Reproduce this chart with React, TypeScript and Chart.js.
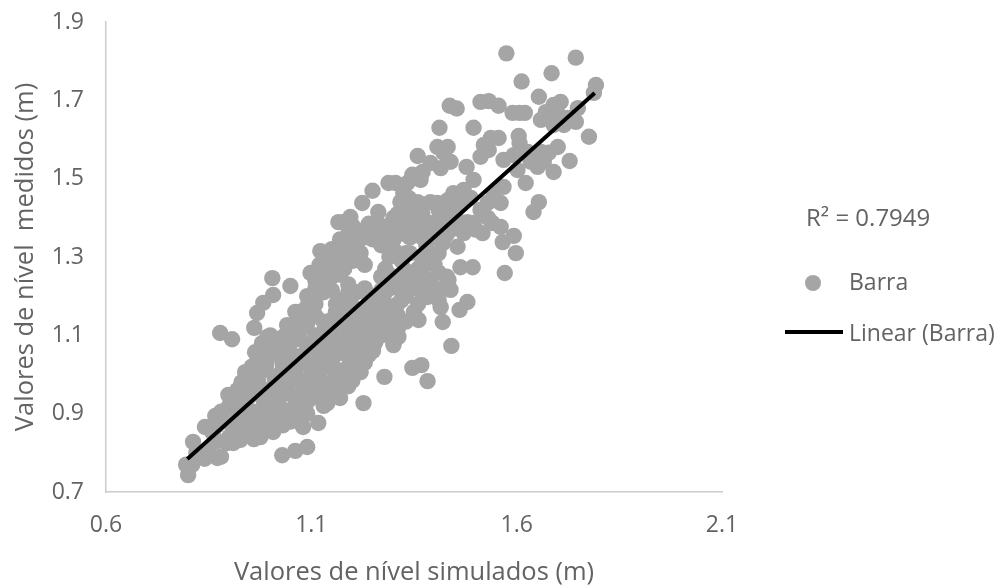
import { useEffect, useRef } from "react";
import { Chart, registerables } from "chart.js";

Chart.register(...registerables);

const seriesName = "Barra";
const trendName = "Linear (Barra)";
const r2Label = "R² = 0.7949";
const xTitle = "Valores de nível simulados (m)";
const yTitle = "Valores de nível  medidos (m)";

const upperCloud = [
  [1.575,1.82],[1.744,1.809],[1.685,1.769],[1.612,1.748],[1.793,1.739],[1.788,1.719],[1.654,1.709],
  [1.437,1.686],[1.454,1.679],[1.512,1.696],[1.532,1.698],[1.556,1.686],[1.59,1.668],[1.607,1.668],[1.62,1.668],
  [1.707,1.696],[1.69,1.688],[1.749,1.68],[1.671,1.67],[1.659,1.65],[1.683,1.655],[1.702,1.663],[1.724,1.655],
  [1.744,1.645],[1.715,1.637],[1.69,1.637],[1.776,1.607],[1.729,1.545],[1.412,1.63],[1.495,1.63],
  [1.605,1.609],[1.607,1.591],[1.556,1.604],[1.537,1.604],[1.52,1.586],[1.512,1.556],[1.532,1.573],
  [1.407,1.581],[1.432,1.581],[1.359,1.558],[1.422,1.566],[1.439,1.543],[1.39,1.54],[1.415,1.527],[1.478,1.53],[1.495,1.497],
  [1.568,1.548],[1.593,1.56],[1.627,1.568],[1.659,1.568],[1.7,1.581],[1.678,1.566],[1.651,1.53],[1.69,1.517],
  [1.666,1.543],[1.634,1.543],[1.602,1.522],[1.622,1.489],[1.568,1.479],[1.544,1.463],[1.561,1.438],[1.529,1.438],
  [1.654,1.44],[1.641,1.415],[1.288,1.489],[1.305,1.489],[1.249,1.469],[1.224,1.438],[1.346,1.51],[1.371,1.517],
  [1.334,1.489],[1.366,1.497],[1.324,1.463],[1.317,1.44],[1.349,1.415],[1.359,1.44],[1.338,1.45],
  [1.407,1.438],[1.446,1.463],[1.471,1.471],[1.432,1.445],[1.463,1.438],[1.488,1.451],[1.395,1.387],[1.422,1.402],[1.446,1.42],
  [1.541,1.387],[1.561,1.377],[1.593,1.354],[1.566,1.338],[1.598,1.31],[1.571,1.259],
  [1.48,1.389],[1.495,1.387],[1.517,1.361],[1.471,1.361],[1.429,1.356],[1.456,1.326],[1.493,1.274],[1.463,1.274],
  [1.178,1.389],[1.166,1.389],[1.195,1.402],[1.263,1.415],[1.3,1.4],[1.324,1.361],[1.371,1.349],
  [1.122,1.315],[1.098,1.259],[1.171,1.336],[1.212,1.336],[1.512,1.42],[1.53,1.4],[1.5,1.37],
];

const lowerCloud = [
  [1.005,1.246],[1.049,1.226],[1.007,1.203],[0.983,1.183],[0.968,1.157],[0.961,1.119],[0.993,1.096],[0.878,1.106],[0.907,1.09],
  [0.963,1.057],[0.939,1.006],[0.898,0.948],[0.866,0.894],[0.841,0.866],[0.812,0.828],[0.8,0.764],[0.8,0.743],[0.81,0.77],
  [0.795,0.77],[1.029,0.794],[1.061,0.805],[1.09,0.815],[1.117,0.876],[1.08,0.866],[1.227,0.927],[1.278,0.994],
  [1.3,1.08],[1.061,1.16],[1.041,1.126],[0.927,0.833],[0.976,0.84],[1.007,0.853],[1.041,0.884],[1.073,0.909],[1.139,0.927],
  [1.178,0.978],[1.22,1.006],[1.251,1.07],[0.871,0.787],[0.84,0.785],[0.895,0.825],
  [1.48,1.185],[1.461,1.165],[1.42,1.134],[1.415,1.172],[1.361,1.139],[1.441,1.073],[1.368,1.024],[1.346,1.017],[1.383,0.983],
  [1.285,1.106],[1.312,1.096],[1.3,1.075],[1.439,1.216],[1.434,1.241],[1.383,1.198],[1.359,1.234],[1.31,1.152],[1.249,1.147],[1.256,1.083],
];

const denseCore = [
  [0.82,0.8],[0.85,0.81],[0.88,0.79],[0.86,0.85],[0.9,0.84],[0.94,0.86],[0.98,0.85],[1.01,0.87],
  [0.89,0.88],[0.93,0.89],[0.97,0.88],[1.0,0.89],[1.04,0.9],[1.07,0.88],
  [0.9,0.92],[0.94,0.93],[0.98,0.91],[1.02,0.93],[1.06,0.92],[1.1,0.94],[1.13,0.92],
  [0.92,0.96],[0.96,0.97],[1.0,0.95],[1.04,0.97],[1.08,0.96],[1.12,0.98],[1.16,0.95],[1.19,0.97],
  [0.94,1.0],[0.98,1.01],[1.02,0.99],[1.06,1.01],[1.1,1.0],[1.14,1.02],[1.18,1.0],[1.21,1.02],
  [0.97,1.04],[1.0,1.05],[1.04,1.03],[1.08,1.05],[1.12,1.04],[1.16,1.06],[1.2,1.04],[1.24,1.05],
  [0.98,1.08],[1.02,1.07],[1.06,1.09],[1.1,1.08],[1.14,1.1],[1.18,1.07],[1.22,1.09],[1.26,1.1],
  [1.05,1.12],[1.09,1.13],[1.13,1.11],[1.17,1.13],[1.21,1.12],[1.25,1.14],[1.29,1.12],
  [1.07,1.16],[1.11,1.15],[1.16,1.16],[1.19,1.15],[1.23,1.17],[1.27,1.16],[1.31,1.18],[1.35,1.16],
  [1.09,1.2],[1.13,1.21],[1.17,1.19],[1.21,1.21],[1.25,1.2],[1.29,1.22],[1.33,1.2],[1.37,1.21],[1.41,1.19],
  [1.11,1.24],[1.15,1.25],[1.19,1.23],[1.27,1.25],[1.31,1.24],[1.35,1.26],[1.39,1.24],[1.43,1.25],
  [1.12,1.28],[1.16,1.27],[1.2,1.29],[1.23,1.28],[1.28,1.27],[1.32,1.29],[1.36,1.27],[1.4,1.28],
  [1.15,1.32],[1.19,1.33],[1.22,1.31],[1.27,1.33],[1.3,1.32],[1.34,1.31],[1.38,1.33],
  [1.19,1.36],[1.23,1.37],[1.27,1.35],[1.32,1.36],[1.36,1.38],[1.4,1.35],[1.44,1.37],
];

const denseFill = [
  [0.87,0.83],[0.91,0.825],[0.96,0.835],[0.87,0.87],[0.91,0.865],[0.95,0.87],[0.99,0.865],[1.03,0.87],[1.05,0.88],
  [0.88,0.905],[0.92,0.9],[0.96,0.905],[1.0,0.91],[1.02,0.9],[1.05,0.905],[1.09,0.9],
  [0.91,0.94],[0.95,0.945],[0.99,0.94],[1.03,0.95],[1.07,0.94],[1.11,0.945],[1.14,0.95],[1.17,0.94],
  [0.93,0.98],[0.97,0.985],[1.01,0.975],[1.05,0.985],[1.09,0.98],[1.13,0.975],[1.155,0.985],[1.17,0.98],[1.2,0.985],
  [0.955,1.02],[0.99,1.025],[1.03,1.015],[1.07,1.025],[1.11,1.02],[1.15,1.03],[1.19,1.02],[1.23,1.03],
  [0.975,1.06],[1.01,1.065],[1.05,1.055],[1.09,1.065],[1.13,1.06],[1.17,1.055],[1.21,1.065],[1.25,1.06],
  [1.0,1.1],[1.03,1.095],[1.07,1.105],[1.11,1.1],[1.15,1.11],[1.19,1.095],[1.23,1.105],[1.27,1.1],[1.31,1.115],
  [1.07,1.14],[1.09,1.145],[1.13,1.135],[1.17,1.145],[1.21,1.14],[1.25,1.155],[1.29,1.14],[1.33,1.135],
  [1.09,1.175],[1.16,1.18],[1.2,1.175],[1.24,1.185],[1.28,1.18],[1.32,1.19],[1.36,1.18],[1.4,1.205],
  [1.11,1.22],[1.15,1.215],[1.19,1.21],[1.23,1.22],[1.27,1.215],[1.31,1.225],[1.35,1.22],[1.39,1.215],[1.42,1.22],
  [1.13,1.26],[1.17,1.255],[1.29,1.255],[1.33,1.265],[1.37,1.255],[1.41,1.26],
  [1.14,1.3],[1.18,1.295],[1.22,1.29],[1.29,1.3],[1.33,1.31],[1.37,1.295],[1.41,1.31],
  [1.17,1.345],[1.21,1.35],[1.25,1.345],[1.3,1.345],[1.34,1.35],[1.37,1.36],[1.42,1.335],
  [1.2,1.38],[1.24,1.385],[1.3,1.375],[1.33,1.385],[1.41,1.38],[1.46,1.39],[1.33,1.42],[1.26,1.39],[1.41,1.42],[1.44,1.4],
];

const streakFill = [
  [0.97,0.9],[0.985,0.93],[0.995,0.96],[1.01,0.995],[1.03,1.03],[1.045,1.06],[1.065,1.09],[1.08,1.12],
  [0.93,0.92],[0.945,0.955],[0.96,0.995],[0.975,1.03],
  [1.08,0.91],[1.09,0.93],[1.11,0.97],[1.12,1.0],[1.14,1.05],[1.16,1.085],[1.18,1.12],[1.2,1.15],
  [1.15,0.97],[1.17,1.01],[1.19,1.05],[1.21,1.09],[1.23,1.13],[1.26,1.17],[1.28,1.21],[1.3,1.24],
  [1.03,0.91],[1.05,0.95],[1.07,0.99],[1.09,1.03],[1.11,1.07],[1.13,1.09],[1.15,1.14],[1.17,1.17],
  [1.23,1.07],[1.25,1.12],[1.27,1.13],[1.29,1.16],[1.32,1.21],[1.34,1.24],[1.37,1.28],[1.38,1.3],
  [1.15,1.29],[1.17,1.31],[1.2,1.34],[1.23,1.35],[1.26,1.37],[1.29,1.38],[1.31,1.41],[1.34,1.39],[1.37,1.41],[1.39,1.44],
  [1.11,1.18],[1.13,1.23],[1.15,1.27],[1.18,1.27],[1.21,1.31],
];

const trendX = [0.798, 1.79];
const trendY = [0.784, 1.719];

const barraPoints = [...upperCloud, ...lowerCloud, ...denseCore, ...denseFill, ...streakFill];
const barraColor = "#a5a5a5";
const textColor = "#636363";
const fontFamily = "'Open Sans', sans-serif";

const sideLegend = {
  id: "sideLegend",
  afterDraw(chart: any) {
    const { ctx } = chart;
    const [scatter, trend] = chart.data.datasets;
    ctx.save();
    ctx.fillStyle = textColor;
    ctx.textBaseline = "middle";
    ctx.textAlign = "left";
    ctx.font = `24px ${fontFamily}`;
    ctx.fillText(r2Label, 806, 219);
    ctx.font = `23px ${fontFamily}`;
    ctx.fillText(scatter.label, 849, 283);
    ctx.fillText(trend.label, 849, 334);
    ctx.beginPath();
    ctx.arc(813, 283, 8, 0, Math.PI * 2);
    ctx.fillStyle = scatter.backgroundColor;
    ctx.fill();
    ctx.beginPath();
    ctx.moveTo(785, 332);
    ctx.lineTo(843, 332);
    ctx.strokeStyle = trend.borderColor;
    ctx.lineWidth = trend.borderWidth;
    ctx.stroke();
    ctx.restore();
  },
};

export default function App() {
  const ref = useRef<HTMLCanvasElement>(null);
  useEffect(() => {
    document.body.style.margin = "0";
    const chart = new Chart(ref.current!, {
      type: "scatter",
      data: {
        datasets: [
          {
            label: seriesName,
            data: barraPoints.map(([x, y]) => ({ x, y })),
            backgroundColor: barraColor,
            borderColor: barraColor,
            borderWidth: 0,
            pointRadius: 8.2,
            order: 2,
          },
          {
            label: trendName,
            data: trendX.map((x, i) => ({ x, y: trendY[i] })),
            type: "line",
            showLine: true,
            borderColor: "#000000",
            backgroundColor: "#000000",
            borderWidth: 4,
            pointRadius: 0,
            tension: 0,
            order: 1,
          },
        ],
      },
      options: {
        animation: false,
        responsive: false,
        layout: { padding: { top: 22, right: 276, left: 0, bottom: 0 } },
        plugins: { legend: { display: false }, tooltip: { enabled: false } },
        scales: {
          x: {
            type: "linear",
            min: 0.6,
            max: 2.1,
            afterBuildTicks: (s: any) => {
              s.ticks = [0.6, 1.1, 1.6, 2.1].map((value) => ({ value }));
            },
            afterFit: (s: any) => {
              s.height = 96;
              s.paddingLeft = 0;
              s.paddingRight = 0;
            },
            grid: { display: false, drawTicks: false },
            border: { color: "#cccccc", width: 1.5 },
            ticks: { color: textColor, font: { family: fontFamily, size: 23 }, padding: 20, maxRotation: 0, callback: (v: any) => Number(v).toFixed(1) },
            title: { display: true, text: xTitle, color: textColor, font: { family: fontFamily, size: 25.5 }, padding: { top: 10, bottom: 0 } },
          },
          y: {
            type: "linear",
            min: 0.7,
            max: 1.9,
            afterBuildTicks: (s: any) => {
              s.ticks = [0.7, 0.9, 1.1, 1.3, 1.5, 1.7, 1.9].map((value) => ({ value }));
            },
            afterFit: (s: any) => {
              s.width = 106;
              s.paddingTop = 0;
              s.paddingBottom = 0;
            },
            grid: { display: false, drawTicks: false },
            border: { color: "#cccccc", width: 1.5 },
            ticks: { color: textColor, font: { family: fontFamily, size: 23 }, padding: 22, callback: (v: any) => Number(v).toFixed(1) },
            title: { display: true, text: yTitle, color: textColor, font: { family: fontFamily, size: 25.5 }, padding: { top: 10, bottom: 0 } },
          },
        },
      },
      plugins: [sideLegend],
    } as any);
    return () => chart.destroy();
  }, []);
  return <canvas ref={ref} width={998} height={588} style={{ display: "block" }} />;
}
